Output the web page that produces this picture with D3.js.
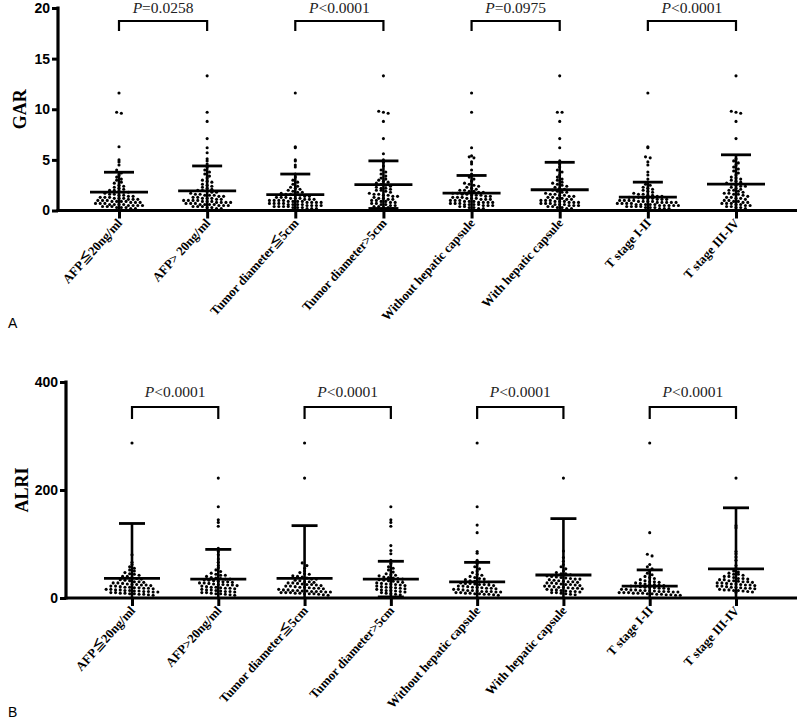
<!DOCTYPE html>
<html>
<head>
<meta charset="utf-8">
<script src="https://cdn.jsdelivr.net/npm/d3@7"></script>
<style>
  html, body { margin: 0; padding: 0; background: #fff; }
  svg { display: block; }
</style>
</head>
<body>
<svg id="chart" width="800" height="725"></svg>
<script>
// ---------------- DATA ----------------
const categoriesA = ["AFP≦20ng/ml", "AFP> 20ng/ml", "Tumor diameter≦5cm", "Tumor diameter>5cm",
  "Without hepatic capsule", "With hepatic capsule", "T stage I-II", "T stage III-IV"];
const categoriesB = ["AFP≦20ng/ml", "AFP>20ng/ml", "Tumor diameter≦5cm", "Tumor diameter>5cm",
  "Without hepatic capsule", "With hepatic capsule", "T stage I-II", "T stage III-IV"];

const garTicks = [0, 5, 10, 15, 20];
const alriTicks = [0, 200, 400];

const garMean = [1.82, 1.93, 1.57, 2.55, 1.72, 2.05, 1.33, 2.60];
const garUpper = [3.78, 4.40, 3.60, 4.90, 3.46, 4.76, 2.80, 5.50];   // mean + SD
const garLower = [0, 0, 0, 0.2, 0, 0, 0, 0];                         // mean - SD (clipped at 0)
const alriMean = [36.4, 35.0, 36.4, 35.0, 30.0, 42.6, 22.0, 54.0];
const alriUpper = [138, 90, 134, 68, 66, 147, 52, 167];              // mean + SD
const alriLower = [0, 0, 0, 2, 0, 0, 0, 0];                          // mean - SD (clipped at 0)

const garPText = ["=0.0258", "<0.0001", "=0.0975", "<0.0001"];
const alriPText = ["<0.0001", "<0.0001", "<0.0001", "<0.0001"];

const garAfpLow = [11.6, 9.7, 9.6, 6.3, 5.0, 4.8, 4.5, 4.0, 3.7, 3.5, 3.3, 3.1, 3.0, 2.8, 2.7, 2.5, 2.4, 2.3, 2.2, 2.1, 2.0, 2.0, 1.9, 1.8, 1.8, 1.7, 1.6, 1.6, 1.5, 1.5, 1.4, 1.4, 1.3, 1.3, 1.2, 1.2, 1.2, 1.1, 1.1, 1.0, 1.0, 1.0, 0.9, 0.9, 0.9, 0.8, 0.8, 0.8, 0.7, 0.7, 0.7, 0.6, 0.6, 0.6, 0.5, 0.5, 0.5, 0.4, 0.4, 0.4, 0.3, 0.3, 0.3, 0.2, 0.2, 0.9, 1.1, 0.6, 1.3, 0.5];
const garAfpHigh = [13.3, 9.7, 8.8, 7.1, 6.2, 5.7, 5.1, 4.9, 4.6, 4.3, 4.0, 3.8, 3.6, 3.4, 3.2, 3.0, 2.9, 2.8, 2.6, 2.5, 2.4, 2.3, 2.2, 2.1, 2.0, 2.0, 1.9, 1.8, 1.8, 1.7, 1.6, 1.6, 1.5, 1.5, 1.4, 1.4, 1.3, 1.3, 1.2, 1.2, 1.1, 1.1, 1.0, 1.0, 1.0, 0.9, 0.9, 0.9, 0.8, 0.8, 0.8, 0.7, 0.7, 0.7, 0.6, 0.6, 0.6, 0.5, 0.5, 0.5, 0.4, 0.4, 0.4, 0.3, 0.3, 0.2, 0.2, 1.2, 0.8, 1.5, 0.6, 1.0];
const garTumorSmall = [11.6, 6.3, 6.2, 5.0, 4.9, 4.5, 4.3, 3.6, 3.3, 3.0, 2.8, 2.6, 2.4, 2.3, 2.2, 2.1, 2.0, 1.9, 1.8, 1.8, 1.7, 1.6, 1.6, 1.5, 1.5, 1.4, 1.4, 1.3, 1.3, 1.3, 1.2, 1.2, 1.1, 1.1, 1.1, 1.0, 1.0, 1.0, 0.9, 0.9, 0.9, 0.8, 0.8, 0.8, 0.7, 0.7, 0.7, 0.6, 0.6, 0.6, 0.5, 0.5, 0.5, 0.4, 0.4, 0.4, 0.3, 0.3, 0.3, 0.2, 0.2, 0.2, 1.0, 0.8, 0.6, 1.2, 0.4, 0.9, 0.5, 0.7];
const garTumorLarge = [13.3, 9.8, 9.7, 9.6, 8.8, 7.1, 5.6, 5.0, 4.8, 4.4, 4.0, 3.8, 3.6, 3.4, 3.2, 3.1, 3.0, 2.9, 2.8, 2.7, 2.6, 2.5, 2.4, 2.3, 2.2, 2.1, 2.0, 2.0, 1.9, 1.8, 1.7, 1.6, 1.6, 1.5, 1.4, 1.4, 1.3, 1.2, 1.2, 1.1, 1.0, 1.0, 0.9, 0.9, 0.8, 0.8, 0.7, 0.7, 0.6, 0.6, 0.5, 0.5, 0.4, 0.4, 0.3, 0.3, 0.2, 1.5, 2.2, 1.1];
const garNoCapsule = [11.6, 9.7, 6.2, 5.4, 5.3, 5.2, 4.8, 4.6, 4.0, 3.6, 3.3, 3.1, 2.9, 2.7, 2.6, 2.5, 2.4, 2.3, 2.2, 2.1, 2.0, 1.9, 1.9, 1.8, 1.8, 1.7, 1.7, 1.6, 1.6, 1.5, 1.5, 1.4, 1.4, 1.3, 1.3, 1.2, 1.2, 1.2, 1.1, 1.1, 1.0, 1.0, 1.0, 0.9, 0.9, 0.9, 0.8, 0.8, 0.8, 0.7, 0.7, 0.7, 0.6, 0.6, 0.6, 0.5, 0.5, 0.5, 0.4, 0.4, 0.3, 0.3, 0.2, 0.2, 1.5, 1.1, 0.8, 1.3, 0.6, 2.0];
const garCapsule = [13.3, 9.7, 9.7, 8.8, 7.1, 6.2, 4.9, 4.6, 4.3, 4.0, 3.8, 3.5, 3.3, 3.1, 3.0, 2.8, 2.7, 2.5, 2.4, 2.3, 2.2, 2.1, 2.0, 1.9, 1.8, 1.8, 1.7, 1.6, 1.5, 1.5, 1.4, 1.4, 1.3, 1.3, 1.2, 1.2, 1.1, 1.1, 1.0, 1.0, 0.9, 0.9, 0.9, 0.8, 0.8, 0.7, 0.7, 0.7, 0.6, 0.6, 0.5, 0.5, 0.5, 0.4, 0.4, 0.3, 0.3, 0.2, 0.2, 1.0, 0.6, 1.6, 0.8, 2.6];
const garStageLow = [11.6, 6.3, 6.2, 5.3, 5.2, 4.8, 4.5, 3.8, 3.5, 3.1, 2.8, 2.6, 2.5, 2.3, 2.2, 2.1, 2.0, 1.9, 1.8, 1.7, 1.6, 1.6, 1.5, 1.5, 1.4, 1.4, 1.3, 1.3, 1.2, 1.2, 1.2, 1.1, 1.1, 1.1, 1.0, 1.0, 1.0, 0.9, 0.9, 0.9, 0.9, 0.8, 0.8, 0.8, 0.8, 0.7, 0.7, 0.7, 0.7, 0.6, 0.6, 0.6, 0.6, 0.5, 0.5, 0.5, 0.5, 0.4, 0.4, 0.4, 0.4, 0.3, 0.3, 0.3, 0.2, 0.2, 0.2, 1.0, 0.8, 0.6, 1.3, 0.5];
const garStageHigh = [13.3, 9.8, 9.7, 9.6, 8.8, 7.1, 5.1, 4.9, 4.7, 4.5, 4.3, 4.1, 3.9, 3.7, 3.5, 3.3, 3.2, 3.0, 2.9, 2.8, 2.7, 2.6, 2.5, 2.4, 2.3, 2.2, 2.1, 2.0, 2.0, 1.9, 1.8, 1.7, 1.6, 1.6, 1.5, 1.4, 1.3, 1.3, 1.2, 1.1, 1.0, 1.0, 0.9, 0.9, 0.8, 0.8, 0.7, 0.7, 0.6, 0.6, 0.5, 0.5, 0.4, 0.4, 0.3, 0.3, 0.2, 1.7, 2.4, 1.2, 0.7, 3.1];

const alriAfpLow = [287, 80, 66, 62, 58, 55, 50, 47, 44, 42, 40, 38, 36, 34, 33, 32, 30, 29, 28, 27, 26, 25, 24, 23, 22, 21, 20, 19, 18, 17, 16, 15, 15, 14, 13, 12, 12, 11, 10, 10, 9, 8, 8, 7, 6, 5, 35, 28, 22, 18, 13, 9, 30, 25, 20, 16, 11, 7, 40, 45, 52, 24, 19, 14];
const alriAfpHigh = [222, 169, 145, 140, 133, 92, 86, 80, 72, 66, 60, 56, 52, 49, 46, 44, 42, 40, 38, 37, 36, 35, 34, 33, 32, 31, 30, 29, 28, 27, 26, 25, 24, 23, 22, 21, 20, 19, 18, 17, 16, 15, 14, 13, 12, 11, 10, 9, 8, 7, 6, 5, 30, 25, 20, 15, 10, 35, 28, 18, 12, 8, 24, 42];
const alriTumorSmall = [287, 222, 65, 60, 55, 50, 47, 44, 41, 39, 37, 35, 33, 32, 30, 29, 28, 27, 26, 25, 24, 23, 22, 21, 20, 19, 18, 17, 16, 15, 14, 14, 13, 12, 12, 11, 11, 10, 10, 9, 9, 8, 8, 7, 6, 5, 30, 25, 20, 15, 12, 10, 8, 35, 28, 22, 18, 13, 40, 45];
const alriTumorLarge = [169, 145, 140, 133, 97, 88, 82, 70, 64, 58, 55, 52, 48, 45, 43, 41, 39, 37, 36, 35, 34, 33, 31, 30, 29, 28, 27, 26, 25, 24, 23, 22, 21, 20, 19, 18, 17, 16, 15, 14, 13, 12, 11, 10, 9, 8, 7, 6, 32, 26, 20, 14, 38, 42];
const alriNoCapsule = [287, 169, 135, 121, 86, 83, 70, 64, 58, 54, 50, 47, 44, 42, 40, 38, 36, 34, 32, 31, 30, 29, 28, 27, 26, 25, 24, 23, 22, 21, 20, 19, 18, 17, 16, 15, 14, 13, 12, 12, 11, 10, 10, 9, 8, 8, 7, 6, 5, 30, 25, 20, 16, 12, 9, 35, 27, 22, 18, 14, 11, 7];
const alriCapsule = [222, 87, 75, 68, 62, 58, 54, 50, 47, 45, 43, 41, 39, 37, 36, 35, 34, 33, 32, 31, 30, 29, 28, 27, 26, 25, 24, 23, 22, 21, 20, 19, 18, 17, 16, 15, 14, 13, 12, 11, 10, 9, 8, 7, 6, 30, 25, 20, 15, 10, 35, 28, 22, 18, 12, 40, 45, 38];
const alriStageLow = [287, 121, 81, 78, 62, 58, 54, 50, 46, 43, 40, 38, 36, 34, 32, 30, 29, 28, 27, 26, 25, 24, 23, 22, 21, 20, 19, 18, 17, 16, 15, 14, 14, 13, 12, 12, 11, 11, 10, 10, 9, 9, 8, 8, 7, 6, 5, 5, 25, 20, 15, 12, 9, 7, 30, 22, 18, 13, 10, 16, 6];
const alriStageHigh = [222, 134, 130, 86, 82, 76, 70, 60, 55, 50, 48, 46, 44, 42, 40, 38, 36, 35, 34, 32, 31, 30, 29, 28, 27, 26, 25, 24, 23, 22, 21, 20, 19, 18, 17, 16, 15, 14, 13, 12, 11, 10, 40, 36, 30, 24, 18, 14, 44, 32, 26, 20, 15, 34, 28, 22];

const garPoints = [garAfpLow, garAfpHigh, garTumorSmall, garTumorLarge, garNoCapsule, garCapsule, garStageLow, garStageHigh];
const alriPoints = [alriAfpLow, alriAfpHigh, alriTumorSmall, alriTumorLarge, alriNoCapsule, alriCapsule, alriStageLow, alriStageHigh];

// ---------------- DRAW ----------------
const svg = d3.select("#chart");
const SERIF = "'Liberation Serif', 'Noto Sans CJK SC', 'Times New Roman', serif";
const SANS = "'Liberation Sans', Arial, sans-serif";

function drawPanel(cfg) {
  const g = svg.append("g");
  const y = d3.scaleLinear().domain([cfg.ticks[0], cfg.ticks[cfg.ticks.length - 1]]).range([cfg.y0, cfg.y1]);
  const x = d3.scalePoint().domain(cfg.cats).range([cfg.xFirst, cfg.xLast]);

  // y axis
  const yAxis = d3.axisLeft(y).tickValues(cfg.ticks).tickSize(6).tickSizeOuter(0).tickPadding(2);
  const ya = g.append("g").attr("transform", `translate(${cfg.axisX},0)`).call(yAxis);
  ya.select(".domain").remove();
  ya.selectAll(".tick line").attr("stroke", "#000").attr("stroke-width", 3);
  ya.selectAll(".tick text").attr("font-family", SANS).attr("font-weight", "bold")
    .attr("font-size", 14).attr("fill", "#000");
  g.append("line").attr("x1", cfg.axisX).attr("x2", cfg.axisX)
    .attr("y1", cfg.y1 - 1.5).attr("y2", cfg.y0 + 1.5).attr("stroke", "#000").attr("stroke-width", 3.2);

  // x axis
  const xAxis = d3.axisBottom(x).tickSize(8).tickSizeOuter(0).tickFormat("");
  const xa = g.append("g").attr("transform", `translate(0,${cfg.y0})`).call(xAxis);
  xa.select(".domain").remove();
  xa.selectAll(".tick line").attr("stroke", "#000").attr("stroke-width", 3);
  g.append("line").attr("x1", cfg.axisX - 1.5).attr("x2", cfg.xEnd)
    .attr("y1", cfg.y0).attr("y2", cfg.y0).attr("stroke", "#000").attr("stroke-width", 3.2);

  // x labels (rotated)
  g.selectAll("text.xlab").data(cfg.cats).enter().append("text")
    .attr("class", "xlab")
    .attr("transform", d => `translate(${x(d) + 4},${cfg.y0 + 13}) rotate(-48)`)
    .attr("text-anchor", "end")
    .attr("font-family", SERIF).attr("font-weight", "bold").attr("font-size", 12.8)
    .attr("fill", "#000").text(d => d);

  // y title
  g.append("text").attr("transform", `translate(${cfg.titleX},${(cfg.y0 + cfg.y1) / 2}) rotate(-90)`)
    .attr("text-anchor", "middle").attr("font-family", SERIF).attr("font-weight", "bold")
    .attr("font-size", 18).attr("fill", "#000").text(cfg.title);

  // points (swarm layout by rows)
  const rowH = 3.3, sp = 4.7;
  cfg.points.forEach((vals, gi) => {
    const cx = x(cfg.cats[gi]);
    const rows = d3.group(vals.slice().sort((a, b) => b - a), v => Math.round(y(v) / rowH));
    const pts = [];
    rows.forEach(arr => {
      const n = arr.length;
      arr.forEach((v, i) => pts.push({ v, dx: (i - (n - 1) / 2) * sp }));
    });
    g.selectAll(null).data(pts).enter().append("circle")
      .attr("cx", d => cx + d.dx).attr("cy", d => Math.min(y(d.v), cfg.y0 - 2))
      .attr("r", 1.55).attr("fill", "#000");
  });

  // mean and SD bars
  cfg.cats.forEach((c, i) => {
    const cx = x(c);
    const ym = y(cfg.mean[i]), yu = y(cfg.upper[i]), yl = y(cfg.lower[i]);
    g.append("line").attr("x1", cx).attr("x2", cx).attr("y1", yu).attr("y2", yl)
      .attr("stroke", "#000").attr("stroke-width", 2.6);
    g.append("line").attr("x1", cx - cfg.meanHW).attr("x2", cx + cfg.meanHW).attr("y1", ym).attr("y2", ym)
      .attr("stroke", "#000").attr("stroke-width", 2.8);
    g.append("line").attr("x1", cx - cfg.capHW).attr("x2", cx + cfg.capHW).attr("y1", yu).attr("y2", yu)
      .attr("stroke", "#000").attr("stroke-width", 2.8);
    if (cfg.lower[i] > 0) {
      g.append("line").attr("x1", cx - cfg.capHW).attr("x2", cx + cfg.capHW).attr("y1", yl).attr("y2", yl)
        .attr("stroke", "#000").attr("stroke-width", 2.8);
    }
  });

  // brackets with P values
  cfg.ptext.forEach((t, k) => {
    const xa1 = x(cfg.cats[2 * k]), xa2 = x(cfg.cats[2 * k + 1]);
    g.append("path")
      .attr("d", `M${xa1},${cfg.brLeg} L${xa1},${cfg.brTop} L${xa2},${cfg.brTop} L${xa2},${cfg.brLeg}`)
      .attr("fill", "none").attr("stroke", "#000").attr("stroke-width", 2.2);
    const tx = g.append("text").attr("x", (xa1 + xa2) / 2).attr("y", cfg.pY)
      .attr("text-anchor", "middle").attr("font-family", SERIF).attr("font-size", 15.5).attr("fill", "#222");
    tx.append("tspan").attr("font-style", "italic").text("P");
    tx.append("tspan").text(t);
  });

  // panel letter
  svg.append("text").attr("x", cfg.letterX).attr("y", cfg.letterY)
    .attr("font-family", SANS).attr("font-size", 14).attr("fill", "#000").text(cfg.letter);
}

drawPanel({
  cats: categoriesA, ticks: garTicks, points: garPoints,
  mean: garMean, upper: garUpper, lower: garLower,
  y0: 210.5, y1: 8, axisX: 58, xFirst: 119, xLast: 736, xEnd: 797,
  title: "GAR", titleX: 26, meanHW: 29, capHW: 15,
  ptext: garPText, brTop: 21, brLeg: 31, pY: 12.5,
  letter: "A", letterX: 8, letterY: 328
});

drawPanel({
  cats: categoriesB, ticks: alriTicks, points: alriPoints,
  mean: alriMean, upper: alriUpper, lower: alriLower,
  y0: 598, y1: 382, axisX: 66, xFirst: 132, xLast: 736, xEnd: 797,
  title: "ALRI", titleX: 28, meanHW: 28, capHW: 13,
  ptext: alriPText, brTop: 407, brLeg: 419, pY: 397,
  letter: "B", letterX: 8, letterY: 717
});
</script>
</body>
</html>
